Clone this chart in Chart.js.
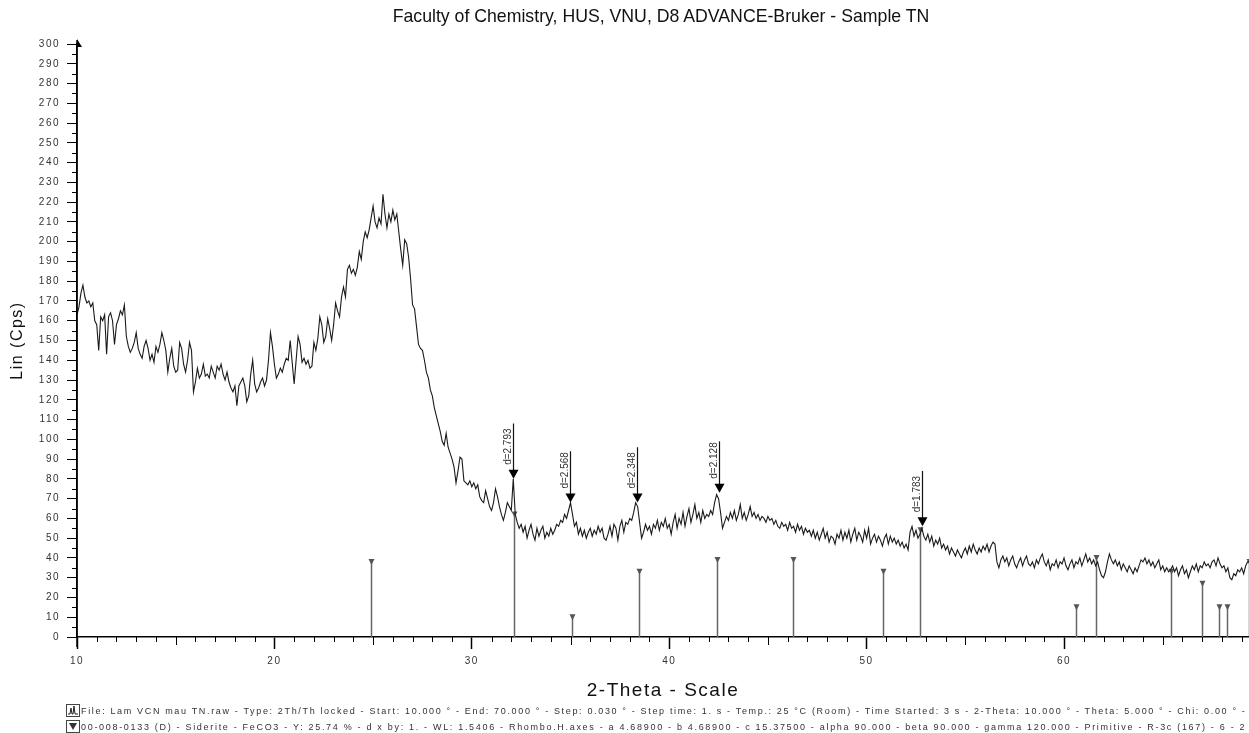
<!DOCTYPE html>
<html lang="en">
<head>
  <meta charset="UTF-8">
  <title>XRD - Sample TN</title>
  <script src="https://cdn.jsdelivr.net/npm/chart.js"></script>
  <style>
    body { margin: 0; background: #fff; }
    #wrap { position: relative; width: 1249px; height: 733px; overflow: hidden; font-family: "Liberation Sans", Arial, sans-serif; }
    #xrd { position: absolute; left: 0; top: 0; }
    #title { position: absolute; left: 73px; right: 0; top: 6px; text-align: center; font-size: 17.7px; line-height: 20px; color: #111; }
    .foot { position: absolute; left: 66px; height: 14px; white-space: nowrap; font-size: 9px; line-height: 14px; color: #333; }
    .foot svg { position: absolute; left: 0; top: 0; }
    .foot span { position: absolute; left: 15px; top: 0; }
  </style>
</head>
<body>
  <div id="wrap">
    <canvas id="xrd" width="1249" height="733"></canvas>
    <div id="title">Faculty of Chemistry, HUS, VNU, D8 ADVANCE-Bruker - Sample TN</div>
    <div class="foot" style="top:704px">
      <svg width="14" height="13"><rect x="0.5" y="0.5" width="13" height="12" fill="#fff" stroke="#444"/><polyline points="2,10 4,10 5,4 6,10 7,10 8,2 9,10 12,10" fill="none" stroke="#222"/></svg>
      <span class="fit">File: Lam VCN mau TN.raw - Type: 2Th/Th locked - Start: 10.000 ° - End: 70.000 ° - Step: 0.030 ° - Step time: 1. s - Temp.: 25 °C (Room) - Time Started: 3 s - 2-Theta: 10.000 ° - Theta: 5.000 ° - Chi: 0.00 ° -</span>
    </div>
    <div class="foot" style="top:720px">
      <svg width="14" height="13"><rect x="0.5" y="0.5" width="13" height="12" fill="#fff" stroke="#444"/><polygon points="3,3 11,3 7,10" fill="#333"/></svg>
      <span class="fit">00-008-0133 (D) - Siderite - FeCO3 - Y: 25.74 % - d x by: 1. - WL: 1.5406 - Rhombo.H.axes - a 4.68900 - b 4.68900 - c 15.37500 - alpha 90.000 - beta 90.000 - gamma 120.000 - Primitive - R-3c (167) - 6 - 2</span>
    </div>
  </div>

  <script>
    // scan: 2-theta from 10 deg, counts every 0.1 deg
    const scanStart = 10.0;
    const scanStep = 0.1;
    const counts = [
      163, 167, 174, 178, 172, 169, 170, 167, 169, 160,
      158, 145, 162, 160, 163, 143, 162, 164, 160, 148,
      158, 161, 165, 163, 168, 152, 147, 144, 146, 149,
      154, 146, 143, 141, 147, 150, 146, 140, 143, 139,
      147, 144, 148, 154, 150, 145, 134, 141, 146, 137,
      134, 135, 149, 146, 138, 134, 140, 149, 145, 124,
      129, 136, 131, 133, 138, 132, 133, 131, 137, 134,
      131, 137, 135, 138, 133, 130, 134, 129, 126, 124,
      127, 117, 127, 129, 131, 127, 119, 122, 133, 140,
      128, 124, 126, 129, 131, 127, 130, 140, 154, 147,
      138, 131, 133, 136, 134, 138, 141, 140, 150, 139,
      128, 140, 152, 148, 139, 141, 138, 140, 136, 137,
      149, 145, 151, 162, 158, 149, 152, 161, 156, 150,
      158, 169, 165, 162, 172, 177, 172, 186, 188, 184,
      186, 183, 187, 195, 191, 200, 205, 202, 206, 212,
      218, 210, 207, 212, 209, 224, 214, 207, 214, 210,
      216, 211, 214, 205, 196, 188, 201, 199, 192, 181,
      168, 166, 157, 148, 146, 145, 140, 134, 131, 125,
      122, 116, 112, 108, 104, 99, 97, 103, 96, 93,
      90, 86, 78, 84, 91, 90, 79, 78, 77, 79,
      76, 78, 75, 77, 71, 69, 68, 74, 70, 66,
      64, 68, 75, 71, 66, 62, 59, 63, 68, 66,
      64, 80, 62, 58, 55, 57, 53, 56, 50, 54,
      57, 52, 49, 55, 51, 54, 56, 50, 53, 51,
      55, 52, 54, 57, 56, 59, 58, 62, 60, 64,
      68, 62, 56, 58, 52, 55, 51, 54, 50, 53,
      55, 51, 54, 52, 56, 53, 55, 50, 49, 52,
      56, 51, 57, 55, 49, 56, 59, 53, 58, 57,
      60, 59, 63, 68, 66, 58, 50, 53, 57, 54,
      56, 52, 57, 55, 59, 54, 58, 56, 60, 55,
      57, 52, 58, 62, 55, 60, 57, 63, 56, 61,
      65, 58, 62, 67, 60, 63, 58, 64, 60, 62,
      61, 64, 62, 68, 72, 70, 63, 55, 58, 61,
      59, 63, 60, 64, 59, 62, 67, 60, 63, 59,
      62, 66, 61, 63, 60, 62, 59, 61, 60, 58,
      61, 59, 60, 57, 59, 56, 55, 58, 56, 57,
      54, 58, 55, 56, 53, 57, 54, 56, 52, 55,
      53, 54, 51, 54, 50, 53, 49, 52, 55, 50,
      53, 48, 51, 50, 47, 52, 50, 54, 49, 53,
      50, 54, 48, 52, 55, 49, 53, 51, 48, 54,
      50, 55, 47, 50, 52, 48, 51, 49, 46, 50,
      52, 47, 51, 48, 50, 47, 49, 46, 48, 45,
      47, 44, 53, 56, 51, 54, 50, 52, 55, 51,
      49, 52, 48, 51, 46, 49, 47, 50, 45, 47,
      44, 46, 42, 45, 43, 41, 44, 42, 40, 43,
      45, 42, 46, 43, 47, 44, 42, 45, 43, 46,
      44, 47, 43, 46, 48, 47, 38, 35, 39, 41,
      38, 40, 36, 39, 41, 37, 35, 38, 40, 36,
      39, 41, 37, 36, 38, 35, 39, 37, 40, 42,
      38, 36, 39, 34, 37, 36, 39, 35, 38, 37,
      40, 36, 34, 37, 39, 35, 38, 37, 40, 36,
      39, 42, 38, 40, 37, 39, 36, 38, 34, 31,
      30, 33, 38, 42, 39, 37, 39, 36, 38, 34,
      37, 35, 33, 36, 34, 32, 35, 33, 36, 39,
      38, 40, 37, 39, 36, 38, 35, 37, 39, 34,
      36, 33, 35, 33, 34, 36, 33, 35, 31, 34,
      36, 32, 34, 30, 33, 36, 34, 37, 33, 36,
      35, 38, 36, 37, 35, 38, 39, 36, 40, 37,
      35, 36, 33, 35, 30, 29, 32, 31, 34, 33,
      35, 32, 36, 38, 38
    ];

    // siderite reference pattern (00-008-0133), scaled stick heights
    const stickTheta  = [24.87, 32.12, 35.08, 38.45, 42.41, 46.28, 50.83, 52.72, 60.61, 61.63, 65.40, 66.99, 67.84, 68.26, 69.36];
    const stickHeight = [38, 62, 10, 33, 39, 39, 33, 54, 15, 40, 33, 27, 15, 15, 38];

    // marked peaks: position, arrow tip, arrow top, d-spacing label
    const peakTheta = [32.08, 34.99, 38.36, 42.50, 52.83];
    const peakTip   = [80, 68, 68, 73, 56];
    const peakTop   = [108, 94, 96, 99, 84];
    const peakLabel = ["d=2.793", "d=2.568", "d=2.348", "d=2.128", "d=1.783"];

    const xMin = 10, xMax = 69.37;
    const yMin = 0, yMax = 300;

    const points = counts.map((c, i) => ({ x: +(scanStart + i * scanStep).toFixed(2), y: c }));

    const xrdDecor = {
      id: "xrdDecor",
      beforeDraw(chart) {
        chart.ctx.letterSpacing = "1.5px";
      },
      beforeDatasetsDraw(chart) {
        const { ctx, scales: { x, y } } = chart;
        const base = y.getPixelForValue(0);
        ctx.save();
        stickTheta.forEach((t, i) => {
          const px = Math.round(x.getPixelForValue(t)) + 0.5;
          const top = y.getPixelForValue(stickHeight[i]);
          ctx.strokeStyle = "#666";
          ctx.lineWidth = 1.5;
          ctx.beginPath();
          ctx.moveTo(px, base);
          ctx.lineTo(px, top);
          ctx.stroke();
          ctx.fillStyle = "#555";
          ctx.beginPath();
          ctx.moveTo(px - 3, top - 3);
          ctx.lineTo(px + 3, top - 3);
          ctx.lineTo(px, top + 3);
          ctx.closePath();
          ctx.fill();
        });
        ctx.restore();
      },
      afterDraw(chart) {
        const { ctx, chartArea: a, scales: { x, y } } = chart;
        ctx.save();
        ctx.letterSpacing = "0px";
        ctx.strokeStyle = "#000";
        ctx.lineWidth = 1;

        // minor ticks on the y axis
        for (let v = 5; v < yMax; v += 10) {
          const py = Math.round(y.getPixelForValue(v)) + 0.5;
          ctx.beginPath();
          ctx.moveTo(a.left - 5, py);
          ctx.lineTo(a.left, py);
          ctx.stroke();
        }
        // minor ticks on the x axis
        for (let t = 11; t < xMax; t++) {
          if (t % 10 === 0) continue;
          const px = Math.round(x.getPixelForValue(t)) + 0.5;
          ctx.beginPath();
          ctx.moveTo(px, a.bottom);
          ctx.lineTo(px, a.bottom + (t % 5 === 0 ? 8 : 5));
          ctx.stroke();
        }

        // y axis runs a little past both ends, arrow on top
        ctx.lineWidth = 1.5;
        ctx.beginPath();
        ctx.moveTo(a.left, a.top - 4);
        ctx.lineTo(a.left, a.bottom + 10);
        ctx.stroke();
        ctx.fillStyle = "#000";
        ctx.beginPath();
        ctx.moveTo(a.left, a.top - 5);
        ctx.lineTo(a.left + 5, a.top + 3);
        ctx.lineTo(a.left, a.top + 3);
        ctx.closePath();
        ctx.fill();

        // d-spacing markers
        ctx.font = "10px 'Liberation Sans', Arial, sans-serif";
        ctx.textAlign = "left";
        ctx.textBaseline = "alphabetic";
        peakTheta.forEach((t, i) => {
          const px = Math.round(x.getPixelForValue(t)) + 0.5;
          const tip = y.getPixelForValue(peakTip[i]);
          const top = y.getPixelForValue(peakTop[i]);
          ctx.strokeStyle = "#111";
          ctx.lineWidth = 1.2;
          ctx.beginPath();
          ctx.moveTo(px, top);
          ctx.lineTo(px, tip - 8);
          ctx.stroke();
          ctx.fillStyle = "#000";
          ctx.beginPath();
          ctx.moveTo(px - 5, tip - 9);
          ctx.lineTo(px + 5, tip - 9);
          ctx.lineTo(px, tip);
          ctx.closePath();
          ctx.fill();
          ctx.save();
          ctx.translate(px - 3, tip - 14);
          ctx.rotate(-Math.PI / 2);
          ctx.fillStyle = "#333";
          ctx.fillText(peakLabel[i], 0, 0);
          ctx.restore();
        });
        ctx.restore();
      }
    };

    new Chart(document.getElementById("xrd"), {
      type: "line",
      data: {
        datasets: [{
          data: points,
          borderColor: "#1a1a1a",
          borderWidth: 1.1,
          pointRadius: 0,
          tension: 0
        }]
      },
      options: {
        responsive: false,
        animation: false,
        events: [],
        layout: { padding: { top: 44, left: 0, right: 0, bottom: 30 } },
        plugins: { legend: { display: false }, tooltip: { enabled: false }, title: { display: false } },
        scales: {
          x: {
            type: "linear",
            min: xMin,
            max: xMax,
            afterBuildTicks: s => { s.ticks = s.ticks.filter(t => Math.abs(t.value % 10) < 1e-6); },
            afterFit: s => { s.height = 66; },
            ticks: { stepSize: 10, autoSkip: false, maxRotation: 0, padding: 6, color: "#333", font: { family: "'Liberation Sans', Arial", size: 10 } },
            grid: { drawOnChartArea: false, tickLength: 12, tickColor: "#000", tickWidth: 1.5 },
            border: { display: true, color: "#000", width: 1.5 },
            title: { display: true, text: "2-Theta - Scale", color: "#111", padding: { top: 0, bottom: 1 }, font: { family: "'Liberation Sans', Arial", size: 19 } }
          },
          y: {
            min: yMin,
            max: yMax,
            afterFit: s => { s.width = 77; },
            ticks: { stepSize: 10, autoSkip: false, padding: 7, color: "#333", font: { family: "'Liberation Sans', Arial", size: 10 } },
            grid: { drawOnChartArea: false, tickLength: 10, tickColor: "#000", tickWidth: 1 },
            border: { display: true, color: "#000", width: 1.5 },
            title: { display: true, text: "Lin (Cps)", color: "#111", padding: { top: 8, bottom: 0 }, font: { family: "'Liberation Sans', Arial", size: 16 } }
          }
        }
      },
      plugins: [xrdDecor]
    });

    // stretch the footer lines across the page width
    document.querySelectorAll(".fit").forEach(el => {
      const target = 1165;
      const n = el.textContent.length;
      const extra = (target - el.offsetWidth) / n;
      el.style.letterSpacing = extra.toFixed(3) + "px";
    });
  </script>
</body>
</html>
